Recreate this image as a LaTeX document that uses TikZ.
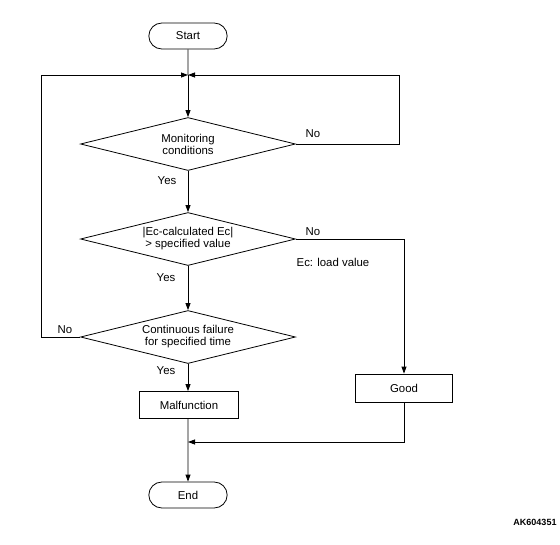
\documentclass[tikz,border=0pt]{standalone}
\usepackage{fontspec}
\setmainfont{Liberation Sans}
\usepackage{tikz}
\usetikzlibrary{arrows.meta, positioning, shapes.geometric, shapes.misc, backgrounds}

\begin{document}
\begin{tikzpicture}[
		  x=1pt, y=-1pt,
		  background rectangle/.style={fill=white},
		  show background rectangle,
		  font=\fontsize{11.4}{12}\selectfont,
		  line width=0.8pt,
		  terminal/.style={
		    draw,
		    rounded rectangle,
		    minimum width=85pt,
		    minimum height=26pt
		  },
		  decision/.style={
		    draw,
		    diamond,
		    aspect=4,
		    inner sep=0pt,
		    align=center,
		    minimum width=215pt,
		    minimum height=53pt
		  },
		  box/.style={
		    draw,
		    align=center,
		    minimum height=27pt
		  },
		  lbl/.style={inner sep=1pt},
		  arrow/.style={-{Triangle[length=7pt,width=5pt]}}
		]
		\useasboundingbox (0,0) rectangle (560,544);

		% --- main column ---
		\node[terminal] (start) at (188,36) {Start};
		\coordinate (join) at (188,75);
		\node[decision] (mon) at (188,144) {Monitoring\\conditions};
		\node[decision] (ec) at (188,239) {|Ec-calculated Ec|\\> specified value};
		\node[decision] (cont) at (188,337) {Continuous failure\\for specified time};
		\node[box, minimum width=99pt] (mal) at (189,405) {Malfunction};
		\coordinate (merge) at (188,442);
		\node[terminal] (end) at (188,495) {End};

		% --- right side ---
		\node[box, minimum width=97pt, minimum height=28pt] (good) at (404,388) {Good};

		% --- loop corners ---
		\coordinate (loopl) at (41,337);
		\coordinate (loopr) at (399,144);

		% --- labels ---
		\node[lbl] (nomon) at (313,134) {No};
		\node[lbl] (yesmon) at (167,181) {Yes};
		\node[lbl] (noec) at (313,232) {No};
		\node[lbl] (ecnote) at (333,262) {Ec: load value};
		\node[lbl] (yesec) at (166,278) {Yes};
		\node[lbl] (nocont) at (65,330) {No};
		\node[lbl] (yescont) at (166,371) {Yes};
		\node[lbl, font=\fontsize{9}{10}\selectfont\bfseries] (code) at (535,522) {AK604351};

		% --- arrows ---
		\draw (start) -- (join);
		\draw[arrow] (join) -- (mon);
		\draw[arrow] (mon) -- (ec);
		\draw[arrow] (ec) -- (cont);
		\draw[arrow] (cont) -- (mal.north -| cont);

		\draw[arrow] (mon.east) -- (loopr) |- (join);
		\draw[arrow] (cont.west) -- (loopl) |- (join);
		\draw[arrow] (ec.east) -| (good.north);

		\draw[arrow] (good.south) |- (merge);
		\draw[arrow] (mal.south -| merge) -- (end);

		\end{tikzpicture}
\end{document}
